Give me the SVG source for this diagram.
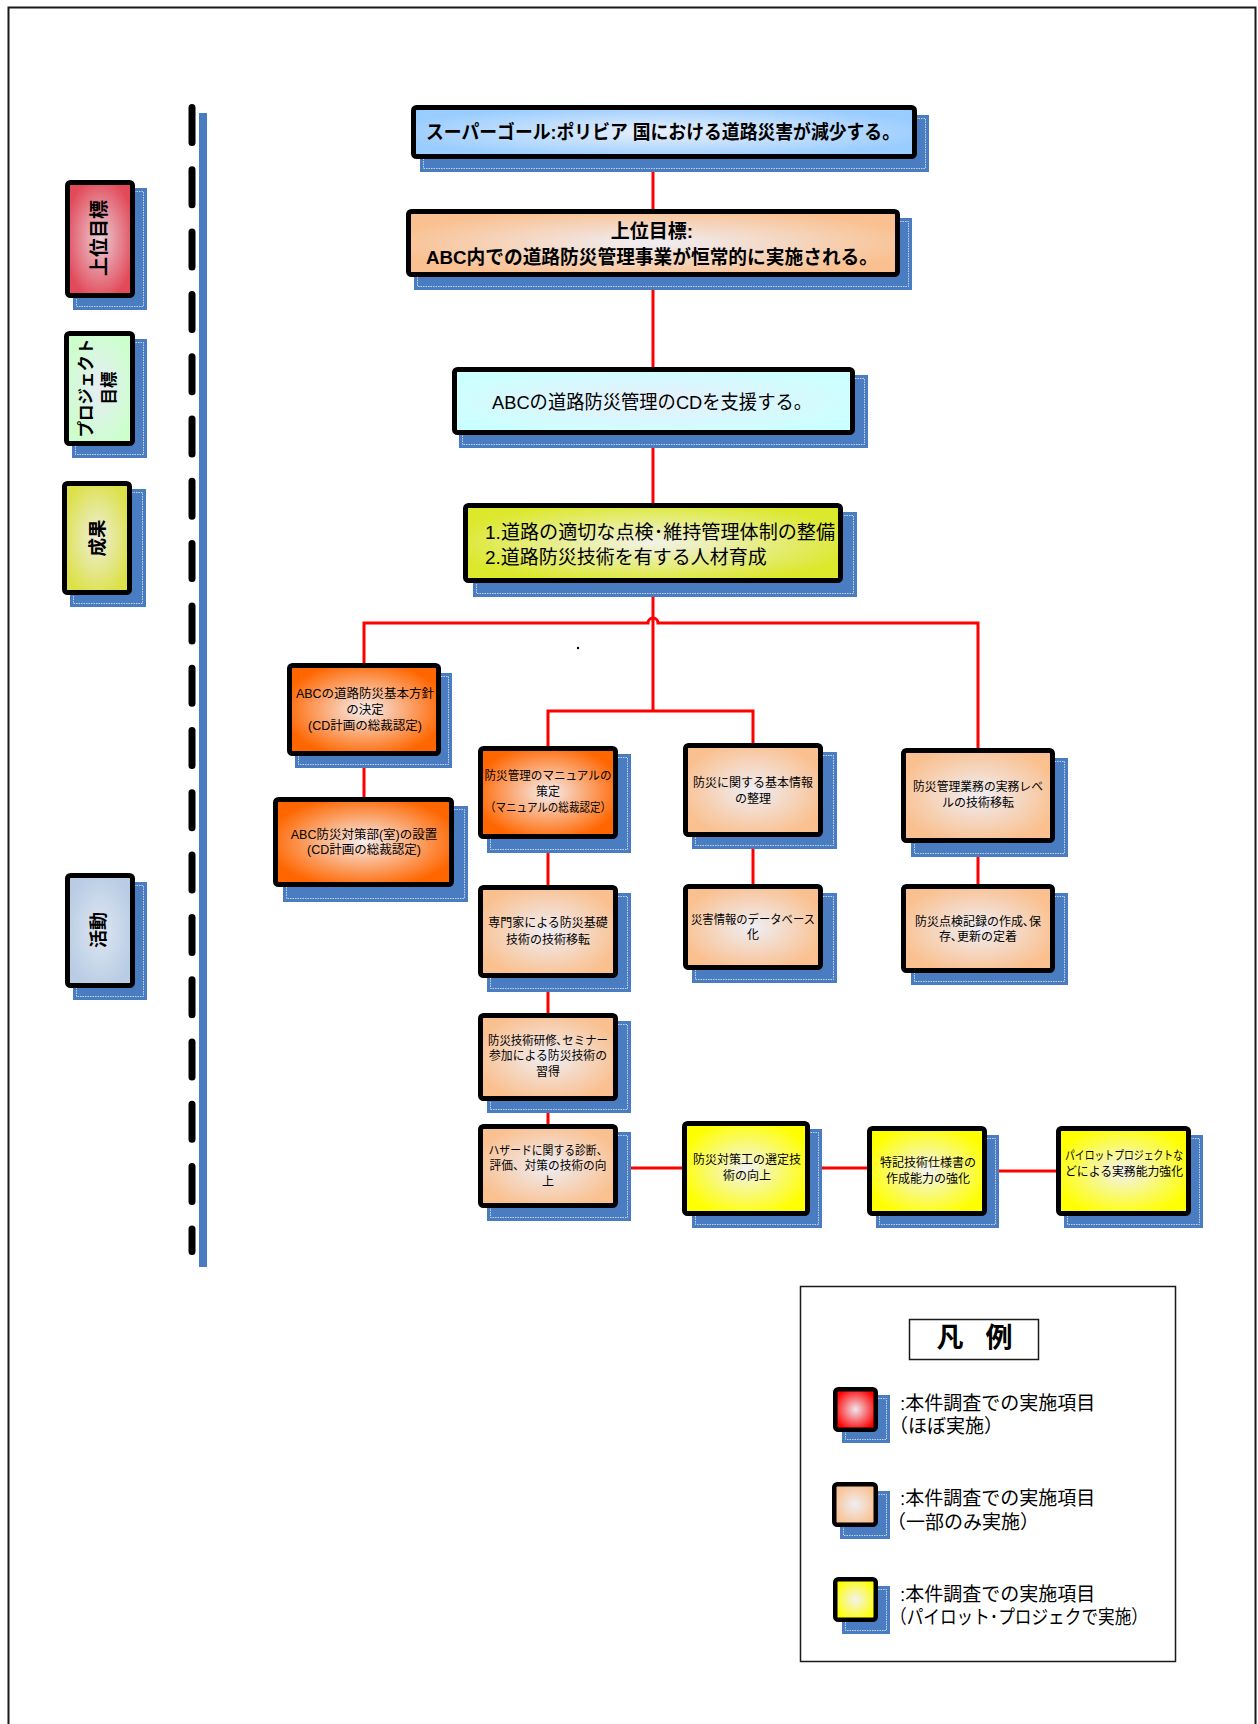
<svg xmlns="http://www.w3.org/2000/svg" width="1258" height="1724" viewBox="0 0 1258 1724">
  <style>
    text { font-family: "Liberation Sans", "Noto Sans CJK JP", sans-serif; fill: #000; dominant-baseline: central; }
    .b { font-weight: 700; }
    .t19 { font-size: 19px; }
    .t12 { font-size: 12px; }
    .mid { text-anchor: middle; }
    .box { stroke: #000; stroke-width: 5; }
    .sq { stroke: #000; stroke-width: 4.5; }
    .shadow { fill: #4A7CC2; }
    .shadow-line { fill: none; stroke: #FFFFFF; stroke-width: 0.8; stroke-dasharray: 1.5 1; opacity: 0.85; }
    .link { fill: none; stroke: #FF0000; stroke-width: 3; }
  </style>
  <defs>
    <radialGradient id="g-sky" cx="0.5" cy="0.5" r="0.55"><stop offset="0" stop-color="#E8F0FA"/><stop offset="1" stop-color="#99CCFF"/></radialGradient>
    <radialGradient id="g-peach" cx="0.5" cy="0.5" r="0.55"><stop offset="0" stop-color="#EFEEF4"/><stop offset="1" stop-color="#FAC08F"/></radialGradient>
    <radialGradient id="g-cyan" cx="0.5" cy="0.5" r="0.55"><stop offset="0" stop-color="#E8EEFA"/><stop offset="1" stop-color="#CCFFFF"/></radialGradient>
    <radialGradient id="g-lime" cx="0.5" cy="0.5" r="0.55"><stop offset="0" stop-color="#F2F2E8"/><stop offset="1" stop-color="#DCE82C"/></radialGradient>
    <radialGradient id="g-orange" cx="0.5" cy="0.5" r="0.55"><stop offset="0" stop-color="#F6EEEE"/><stop offset="1" stop-color="#FF6600"/></radialGradient>
    <radialGradient id="g-yellow" cx="0.5" cy="0.5" r="0.55"><stop offset="0" stop-color="#F2F2F2"/><stop offset="1" stop-color="#FFFF00"/></radialGradient>
    <radialGradient id="g-red" cx="0.5" cy="0.5" r="0.55"><stop offset="0" stop-color="#EEE8F0"/><stop offset="1" stop-color="#FF0000"/></radialGradient>
    <radialGradient id="g-rose" cx="0.5" cy="0.5" r="0.55"><stop offset="0" stop-color="#EAD0D8"/><stop offset="1" stop-color="#E24A5A"/></radialGradient>
    <radialGradient id="g-mint" cx="0.5" cy="0.5" r="0.55"><stop offset="0" stop-color="#E6ECF6"/><stop offset="1" stop-color="#CCFFCC"/></radialGradient>
    <radialGradient id="g-olive" cx="0.5" cy="0.5" r="0.55"><stop offset="0" stop-color="#EEEEDC"/><stop offset="1" stop-color="#DCE14A"/></radialGradient>
    <radialGradient id="g-steel" cx="0.5" cy="0.5" r="0.55"><stop offset="0" stop-color="#DEE6F2"/><stop offset="1" stop-color="#B8CCE4"/></radialGradient>
  </defs>

  <rect width="1258" height="1724" fill="#FFFFFF"/>
  <!-- page frame (open at the bottom) -->
  <rect x="8.5" y="7.5" width="1247" height="1740" fill="none" stroke="#1A1A1A" stroke-width="2"/>

  <!-- level divider -->
  <g id="divider">
    <rect x="199" y="113" width="8" height="1154" fill="#4A7CC2"/>
    <path d="M192,107.5 V1251.5" fill="none" stroke="#000" stroke-width="7" stroke-linecap="round" stroke-dasharray="35 27.3"/>
  </g>

  <!-- level labels -->
  <g id="lbl-upper-goal">
    <rect class="shadow" x="73" y="188" width="74" height="122"/>
    <rect class="shadow-line" x="76.5" y="191.5" width="67" height="115"/>
    <rect class="box" x="67.5" y="182.5" width="65" height="113" rx="3" fill="url(#g-rose)"/>
    <text class="b mid" font-size="19" transform="translate(99,238) rotate(-90)">上位目標</text>
  </g>
  <g id="lbl-project-purpose">
    <rect class="shadow" x="72" y="339" width="75" height="119"/>
    <rect class="shadow-line" x="75.5" y="342.5" width="68" height="112"/>
    <rect class="box" x="66.5" y="333.5" width="66" height="110" rx="3" fill="url(#g-mint)"/>
    <text class="b mid" font-size="16.5" transform="translate(98,388) rotate(-90)"><tspan x="0" y="-12">プロジェクト</tspan><tspan x="0" y="11">目標</tspan></text>
  </g>
  <g id="lbl-outputs">
    <rect class="shadow" x="70" y="489" width="76" height="118"/>
    <rect class="shadow-line" x="73.5" y="492.5" width="69" height="111"/>
    <rect class="box" x="64.5" y="483.5" width="65" height="109" rx="3" fill="url(#g-olive)"/>
    <text class="b mid" font-size="18.5" transform="translate(97,538) rotate(-90)">成果</text>
  </g>
  <g id="lbl-activities">
    <rect class="shadow" x="73" y="882" width="74" height="118"/>
    <rect class="shadow-line" x="76.5" y="885.5" width="67" height="111"/>
    <rect class="box" x="67.5" y="875.5" width="65" height="110" rx="3" fill="url(#g-steel)"/>
    <text class="b mid" font-size="18" transform="translate(99,930) rotate(-90)">活動</text>
  </g>

  <!-- connectors -->
  <g id="connectors">
    <path class="link" d="M653,159 V209"/>
    <path class="link" d="M653,277 V367"/>
    <path class="link" d="M653,435 V503"/>
    <path class="link" d="M653,583 V711"/>
    <path class="link" d="M364,663 V623 H648 A5,5 0 0 1 658,623 H978 V748"/>
    <path class="link" d="M548,746 V711 H753 V743"/>
    <path class="link" d="M364,756 V797"/>
    <path class="link" d="M548,839 V885"/>
    <path class="link" d="M548,978 V1013"/>
    <path class="link" d="M548,1101 V1124"/>
    <path class="link" d="M753,837 V884"/>
    <path class="link" d="M978,843 V884"/>
    <path class="link" d="M618,1168 H682"/>
    <path class="link" d="M810,1168 H867"/>
    <path class="link" d="M987,1171 H1056"/>
  </g>
  <circle cx="578" cy="648" r="1.2" fill="#000"/>

  <!-- goal hierarchy -->
  <g id="n-super-goal">
    <rect class="shadow" x="420" y="115" width="509" height="57"/>
    <rect class="shadow-line" x="423.5" y="118.5" width="502" height="50"/>
    <rect class="box" x="413.5" y="107.5" width="501" height="49" rx="3" fill="url(#g-sky)"/>
    <text class="b t19 mid" x="663" y="132" textLength="474" lengthAdjust="spacingAndGlyphs">スーパーゴール:ポリビア 国における道路災害が減少する。</text>
  </g>
  <g id="n-upper-goal">
    <rect class="shadow" x="414" y="218" width="498" height="72"/>
    <rect class="shadow-line" x="417.5" y="221.5" width="491" height="65"/>
    <rect class="box" x="408.5" y="211.5" width="489" height="63" rx="3" fill="url(#g-peach)"/>
    <text class="b t19 mid" x="652" y="231">上位目標:</text>
    <text class="b t19 mid" x="652" y="257" textLength="452" lengthAdjust="spacingAndGlyphs">ABC内での道路防災管理事業が恒常的に実施される。</text>
  </g>
  <g id="n-project-purpose">
    <rect class="shadow" x="459" y="375" width="409" height="73"/>
    <rect class="shadow-line" x="462.5" y="378.5" width="402" height="66"/>
    <rect class="box" x="454.5" y="369.5" width="398" height="63" rx="3" fill="url(#g-cyan)"/>
    <text class="t19 mid" x="652" y="402" textLength="320" lengthAdjust="spacingAndGlyphs">ABCの道路防災管理のCDを支援する。</text>
  </g>
  <g id="n-outputs">
    <rect class="shadow" x="473" y="512" width="384" height="85"/>
    <rect class="shadow-line" x="476.5" y="515.5" width="377" height="78"/>
    <rect class="box" x="465.5" y="505.5" width="375" height="75" rx="3" fill="url(#g-lime)"/>
    <text class="t19" x="485" y="532" textLength="350" lengthAdjust="spacingAndGlyphs">1.道路の適切な点検･維持管理体制の整備</text>
    <text class="t19" x="485" y="557">2.道路防災技術を有する人材育成</text>
  </g>

  <!-- activities -->
  <g id="n-a1">
    <rect class="shadow" x="295" y="673" width="157" height="95"/>
    <rect class="shadow-line" x="298.5" y="676.5" width="150" height="88"/>
    <rect class="box" x="289.5" y="665.5" width="149" height="88" rx="3" fill="url(#g-orange)"/>
    <text class="mid" font-size="12.5" x="365" y="694">ABCの道路防災基本方針</text>
    <text class="mid" font-size="12.5" x="365" y="710">の決定</text>
    <text class="mid" font-size="12.5" x="365" y="726">(CD計画の総裁認定)</text>
  </g>
  <g id="n-a2">
    <rect class="shadow" x="283" y="806" width="185" height="96"/>
    <rect class="shadow-line" x="286.5" y="809.5" width="178" height="89"/>
    <rect class="box" x="275.5" y="799.5" width="176" height="85" rx="3" fill="url(#g-orange)"/>
    <text class="mid" font-size="12.5" x="364" y="835">ABC防災対策部(室)の設置</text>
    <text class="mid" font-size="12.5" x="364" y="850">(CD計画の総裁認定)</text>
  </g>
  <g id="n-b1">
    <rect class="shadow" x="487" y="754" width="144" height="99"/>
    <rect class="shadow-line" x="490.5" y="757.5" width="137" height="92"/>
    <rect class="box" x="480.5" y="748.5" width="135" height="88" rx="3" fill="url(#g-orange)"/>
    <text class="t12 mid" x="548" y="776" textLength="127" lengthAdjust="spacingAndGlyphs">防災管理のマニュアルの</text>
    <text class="t12 mid" x="548" y="792">策定</text>
    <text class="t12 mid" x="548" y="808" textLength="126" lengthAdjust="spacingAndGlyphs">（マニュアルの総裁認定）</text>
  </g>
  <g id="n-b2">
    <rect class="shadow" x="487" y="893" width="144" height="99"/>
    <rect class="shadow-line" x="490.5" y="896.5" width="137" height="92"/>
    <rect class="box" x="480.5" y="887.5" width="135" height="88" rx="3" fill="url(#g-peach)"/>
    <text class="t12 mid" x="548" y="923">専門家による防災基礎</text>
    <text class="t12 mid" x="548" y="940">技術の技術移転</text>
  </g>
  <g id="n-b3">
    <rect class="shadow" x="487" y="1021" width="144" height="92"/>
    <rect class="shadow-line" x="490.5" y="1024.5" width="137" height="85"/>
    <rect class="box" x="480.5" y="1015.5" width="135" height="83" rx="3" fill="url(#g-peach)"/>
    <text class="t12 mid" x="548" y="1041" textLength="120" lengthAdjust="spacingAndGlyphs">防災技術研修､セミナー</text>
    <text class="t12 mid" x="548" y="1056" textLength="118" lengthAdjust="spacingAndGlyphs">参加による防災技術の</text>
    <text class="t12 mid" x="548" y="1072">習得</text>
  </g>
  <g id="n-b4">
    <rect class="shadow" x="487" y="1132" width="144" height="89"/>
    <rect class="shadow-line" x="490.5" y="1135.5" width="137" height="82"/>
    <rect class="box" x="480.5" y="1126.5" width="135" height="79" rx="3" fill="url(#g-peach)"/>
    <text class="t12 mid" x="548" y="1151" textLength="119" lengthAdjust="spacingAndGlyphs">ハザードに関する診断、</text>
    <text class="t12 mid" x="548" y="1166" textLength="117" lengthAdjust="spacingAndGlyphs">評価、対策の技術の向</text>
    <text class="t12 mid" x="548" y="1182">上</text>
  </g>
  <g id="n-c1">
    <rect class="shadow" x="692" y="752" width="145" height="97"/>
    <rect class="shadow-line" x="695.5" y="755.5" width="138" height="90"/>
    <rect class="box" x="685.5" y="745.5" width="135" height="89" rx="3" fill="url(#g-peach)"/>
    <text class="t12 mid" x="753" y="783">防災に関する基本情報</text>
    <text class="t12 mid" x="753" y="799">の整理</text>
  </g>
  <g id="n-c2">
    <rect class="shadow" x="692" y="893" width="145" height="90"/>
    <rect class="shadow-line" x="695.5" y="896.5" width="138" height="83"/>
    <rect class="box" x="685.5" y="886.5" width="135" height="81" rx="3" fill="url(#g-peach)"/>
    <text class="t12 mid" x="753" y="920" textLength="124" lengthAdjust="spacingAndGlyphs">災害情報のデータベース</text>
    <text class="t12 mid" x="753" y="935">化</text>
  </g>
  <g id="n-d1">
    <rect class="shadow" x="911" y="758" width="157" height="99"/>
    <rect class="shadow-line" x="914.5" y="761.5" width="150" height="92"/>
    <rect class="box" x="903.5" y="750.5" width="149" height="90" rx="3" fill="url(#g-peach)"/>
    <text class="t12 mid" x="978" y="787" textLength="130" lengthAdjust="spacingAndGlyphs">防災管理業務の実務レベ</text>
    <text class="t12 mid" x="978" y="803">ルの技術移転</text>
  </g>
  <g id="n-d2">
    <rect class="shadow" x="911" y="893" width="157" height="92"/>
    <rect class="shadow-line" x="914.5" y="896.5" width="150" height="85"/>
    <rect class="box" x="903.5" y="886.5" width="149" height="84" rx="3" fill="url(#g-peach)"/>
    <text class="t12 mid" x="978" y="922">防災点検記録の作成､保</text>
    <text class="t12 mid" x="978" y="937">存､更新の定着</text>
  </g>
  <g id="n-c4">
    <rect class="shadow" x="692" y="1129" width="130" height="99"/>
    <rect class="shadow-line" x="695.5" y="1132.5" width="123" height="92"/>
    <rect class="box" x="684.5" y="1123.5" width="123" height="90" rx="3" fill="url(#g-yellow)"/>
    <text class="t12 mid" x="747" y="1160">防災対策工の選定技</text>
    <text class="t12 mid" x="747" y="1176">術の向上</text>
  </g>
  <g id="n-c5">
    <rect class="shadow" x="876" y="1135" width="123" height="93"/>
    <rect class="shadow-line" x="879.5" y="1138.5" width="116" height="86"/>
    <rect class="box" x="869.5" y="1128.5" width="115" height="85" rx="3" fill="url(#g-yellow)"/>
    <text class="t12 mid" x="928" y="1163">特記技術仕様書の</text>
    <text class="t12 mid" x="928" y="1179">作成能力の強化</text>
  </g>
  <g id="n-c6">
    <rect class="shadow" x="1064" y="1135" width="139" height="93"/>
    <rect class="shadow-line" x="1067.5" y="1138.5" width="132" height="86"/>
    <rect class="box" x="1058.5" y="1128.5" width="130" height="85" rx="3" fill="url(#g-yellow)"/>
    <text class="t12 mid" x="1124" y="1156" textLength="118" lengthAdjust="spacingAndGlyphs">パイロットプロジェクトな</text>
    <text class="t12 mid" x="1124" y="1172" textLength="118" lengthAdjust="spacingAndGlyphs">どによる実務能力強化</text>
  </g>

  <!-- legend -->
  <g id="legend">
    <rect x="800.5" y="1286.5" width="375" height="375" fill="#FFFFFF" stroke="#1A1A1A" stroke-width="1.5"/>
    <rect x="909.5" y="1319.5" width="129" height="40" fill="#FFFFFF" stroke="#1A1A1A" stroke-width="1.5"/>
    <text class="b" font-size="27"><tspan class="mid" x="950" y="1338">凡</tspan><tspan class="mid" x="999" y="1338">例</tspan></text>

    <g id="legend-red">
      <rect class="shadow" x="842" y="1395" width="48" height="48"/>
      <rect class="shadow-line" x="845.5" y="1398.5" width="41" height="41"/>
      <rect class="sq" x="835.25" y="1389.25" width="40.5" height="40.5" rx="3" fill="url(#g-red)"/>
      <text class="t19" x="900" y="1403">:本件調査での実施項目</text>
      <text class="t19" x="889" y="1426">（ほぼ実施）</text>
    </g>
    <g id="legend-peach">
      <rect class="shadow" x="840" y="1491" width="50" height="48"/>
      <rect class="shadow-line" x="843.5" y="1494.5" width="43" height="41"/>
      <rect class="sq" x="834.25" y="1484.25" width="41.5" height="40.5" rx="3" fill="url(#g-peach)"/>
      <text class="t19" x="900" y="1498">:本件調査での実施項目</text>
      <text class="t19" x="887" y="1522">（一部のみ実施）</text>
    </g>
    <g id="legend-yellow">
      <rect class="shadow" x="842" y="1586" width="48" height="48"/>
      <rect class="shadow-line" x="845.5" y="1589.5" width="41" height="41"/>
      <rect class="sq" x="835.25" y="1579.25" width="40.5" height="40.5" rx="3" fill="url(#g-yellow)"/>
      <text class="t19" x="900" y="1594">:本件調査での実施項目</text>
      <text class="t19" x="890" y="1617" textLength="258" lengthAdjust="spacingAndGlyphs">（パイロット･プロジェクで実施）</text>
    </g>
  </g>
</svg>
